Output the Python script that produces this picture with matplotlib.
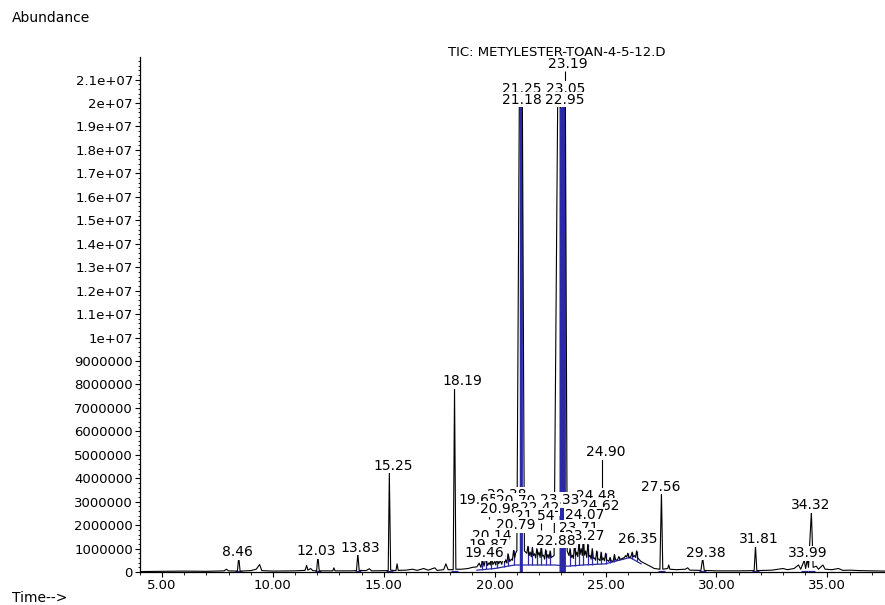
import numpy as np
import matplotlib
matplotlib.use("Agg")
import matplotlib.pyplot as plt
from matplotlib.ticker import MultipleLocator, FuncFormatter

plt.rcParams['font.family'] = ['DejaVu Sans']

# TIC trace: time (min), abundance (millions)
trace_t = [4.0, 5.0, 6.0, 7.0, 7.8, 7.9, 8.0, 8.40, 8.46, 8.52, 9.0, 9.25, 9.40, 9.5,
           10.0, 11.0, 11.45, 11.52, 11.58, 11.7, 11.8, 11.97, 12.03, 12.09, 12.7, 12.75,
           12.8, 13.5, 13.77, 13.83, 13.89, 14.2, 14.35, 14.45, 15.0, 15.2, 15.25, 15.31,
           15.55, 15.6, 15.65, 16.0, 16.3, 16.5, 16.8, 17.0, 17.3, 17.4, 17.7, 17.8, 17.9,
           18.13, 18.19, 18.25, 18.5, 18.8, 19.0, 19.2,
           19.3, 19.38, 19.45, 19.52, 19.6, 19.68, 19.75, 19.8, 19.85, 19.92, 20.0, 20.05,
           20.1, 20.18, 20.25, 20.32, 20.4, 20.45, 20.5, 20.55, 20.6, 20.68, 20.75, 20.8,
           20.85, 20.9, 20.95, 21.0,
           21.11, 21.18, 21.25, 21.34,
           21.45, 21.5, 21.55, 21.6, 21.65, 21.7, 21.75, 21.8, 21.85, 21.9, 21.95, 22.0,
           22.05, 22.1, 22.15, 22.2, 22.25, 22.3, 22.35, 22.4, 22.45, 22.5, 22.55, 22.68,
           22.84, 22.9, 22.97, 23.05, 23.12, 23.19, 23.27,
           23.35, 23.4, 23.45, 23.5, 23.55, 23.6, 23.65, 23.7, 23.75, 23.8, 23.85, 23.9,
           23.95, 24.0, 24.05, 24.1, 24.15, 24.2, 24.25, 24.3, 24.35, 24.4, 24.45, 24.5,
           24.55, 24.6, 24.65, 24.7, 24.75, 24.8, 24.85, 24.9, 24.95, 25.0, 25.05, 25.1,
           25.15, 25.2, 25.25, 25.3, 25.35, 25.4, 25.45, 25.5, 25.55, 25.6, 25.65, 25.7,
           25.75, 25.8, 25.85, 25.9, 25.95, 26.0, 26.05, 26.1, 26.15, 26.2, 26.25, 26.3,
           26.35, 26.4, 26.45, 26.5, 26.6, 26.8, 27.0, 27.2, 27.45, 27.52, 27.58, 27.8,
           27.85, 27.9, 28.2, 28.6, 28.7, 28.8, 29.3, 29.38, 29.45, 30.0, 31.0, 31.7,
           31.76, 31.82, 32.5, 33.0, 33.2, 33.5, 33.7, 33.8, 33.96, 34.02, 34.1, 34.15,
           34.28, 34.36, 34.5, 34.6, 34.8, 34.9, 35.2, 35.5, 35.7, 36.0, 36.5, 37.0, 37.6]
trace_v = [0.02, 0.03, 0.04, 0.03, 0.05, 0.12, 0.05, 0.04, 0.64, 0.04, 0.06, 0.12, 0.32, 0.06,
           0.04, 0.05, 0.07, 0.28, 0.08, 0.15, 0.06, 0.05, 0.68, 0.05, 0.05, 0.18,
           0.05, 0.05, 0.06, 0.80, 0.07, 0.06, 0.14, 0.05, 0.06, 0.06, 4.25, 0.08,
           0.06, 0.35, 0.07, 0.08, 0.12, 0.07, 0.15, 0.08, 0.18, 0.07, 0.10, 0.35, 0.10,
           0.10, 7.85, 0.12, 0.12, 0.15, 0.20, 0.22,
           0.38, 0.20, 0.55, 0.25, 0.60, 0.28, 0.40, 0.30, 0.65, 0.32, 0.45, 0.30,
           0.62, 0.35, 0.48, 0.33, 0.72, 0.40, 0.52, 0.38, 0.78, 0.45, 0.55, 0.50,
           0.92, 0.60, 0.82, 0.90,
           19.9, 19.95, 19.9, 0.90,
           0.80, 1.10, 0.70, 0.85, 0.65, 1.05, 0.70, 0.78, 0.60, 1.00, 0.72, 0.85,
           0.62, 1.10, 0.68, 0.72, 0.55, 0.95, 0.60, 0.75, 0.58, 0.90, 0.62, 0.70,
           19.9, 19.95, 19.8, 19.95, 19.85, 19.9, 0.90,
           0.70, 1.00, 0.62, 0.72, 0.58, 1.20, 0.70, 0.85, 0.65, 1.30, 0.75, 1.00,
           0.70, 1.50, 0.72, 0.90, 0.62, 1.20, 0.65, 0.72, 0.55, 1.00, 0.58, 0.60,
           0.50, 0.90, 0.55, 0.55, 0.48, 0.85, 0.52, 0.60, 0.48, 0.80, 0.50, 0.50,
           0.45, 0.62, 0.48, 0.45, 0.50, 0.75, 0.52, 0.50, 0.55, 0.66, 0.56, 0.55,
           0.58, 0.60, 0.62, 0.70, 0.64, 0.80, 0.66, 0.60, 0.68, 0.85, 0.65, 0.70,
           0.62, 0.90, 0.60, 0.55, 0.45, 0.35, 0.25, 0.15, 0.12, 3.40, 0.12, 0.15,
           0.30, 0.12, 0.10, 0.12, 0.18, 0.08, 0.07, 0.60, 0.07, 0.05, 0.05, 0.06,
           1.10, 0.06, 0.08, 0.15, 0.10, 0.15, 0.30, 0.12, 0.50, 0.15, 0.55, 0.20,
           2.57, 0.20, 0.25, 0.12, 0.30, 0.12, 0.10, 0.15, 0.07, 0.08, 0.06, 0.05, 0.04]

# integration baseline (blue) and drop lines
base_t = [19.2, 20.0, 20.9, 22.7, 23.3, 24.0, 25.0, 26.1, 26.6]
base_v = [0.08, 0.15, 0.30, 0.30, 0.25, 0.30, 0.35, 0.62, 0.35]
drop_t = [19.45, 19.6, 19.85, 20.1, 20.4, 20.6, 20.85, 21.5, 21.7, 21.9, 22.1, 22.3,
          22.5, 23.4, 23.6, 23.8, 24.0, 24.2, 24.4, 24.6, 24.8, 25.0, 25.2, 25.4,
          25.6, 25.8, 26.0, 26.2, 26.4]
iso_peaks = [8.46, 12.03, 13.83, 15.25, 18.19, 27.52, 29.38, 31.76, 33.96, 34.28]
# blue fill inside the two saturated peaks
fill_ranges = [(21.11, 21.25), (22.90, 23.19)]

# peak labels: text, time, abundance (millions) of label centre
lab_text = ["23.19", "21.25", "23.05", "21.18", "22.95", "18.19", "24.90", "15.25",
            "27.56", "20.38", "24.48", "23.33", "19.65", "20.70", "34.32", "24.62",
            "20.98", "22.42", "21.54", "24.07", "20.79", "23.71", "20.14", "23.27",
            "31.81", "26.35", "22.88", "19.87", "13.83", "12.03", "8.46", "29.38",
            "19.46", "33.99"]
lab_t = [23.29, 21.22, 23.18, 21.22, 23.18, 18.56, 25.00, 15.41,
         27.51, 20.54, 24.58, 22.93, 19.28, 20.95, 34.23, 24.73,
         20.23, 22.03, 21.80, 24.05, 20.95, 23.78, 19.86, 24.05,
         31.90, 26.44, 22.75, 19.73, 13.96, 11.94, 8.42, 29.50,
         19.55, 34.11]
lab_v = [21.68, 20.61, 20.61, 20.15, 20.15, 8.15, 5.11, 4.54,
         3.64, 3.29, 3.26, 3.07, 3.07, 3.03, 2.85, 2.82,
         2.69, 2.73, 2.40, 2.43, 2.00, 1.89, 1.54, 1.54,
         1.39, 1.41, 1.34, 1.15, 1.04, 0.90, 0.85, 0.82,
         0.81, 0.80]
# leader lines: time, bottom, top (millions)
lead_t = [23.15, 24.85, 19.73, 22.10]
lead_lo = [20.93, 3.58, 2.26, 1.79]
lead_hi = [21.35, 4.87, 2.73, 2.09]

BLUE = '#2a2aa8'
M = 1e6

fig = plt.figure(figsize=(8.85, 6.05), dpi=100)
ax = fig.add_axes([0.158, 0.0545, 0.842, 0.8508])

t = np.array(trace_t)
v = np.array(trace_v) * M
for a, b in fill_ranges:
    ax.fill_between(t, 0, v, where=(t >= a) & (t <= b), color=BLUE, lw=0, zorder=1)

lookup = dict(zip(trace_t, trace_v))
tops = [lookup[d] * M for d in drop_t]
bots = np.interp(drop_t, base_t, base_v) * M
ax.vlines(drop_t, bots, tops, color=BLUE, lw=0.9, zorder=1)
ax.plot(base_t, np.array(base_v) * M, color=BLUE, lw=0.9, zorder=1)
ax.hlines([0.03 * M] * len(iso_peaks), np.array(iso_peaks) - 0.15,
          np.array(iso_peaks) + 0.15, color=BLUE, lw=0.9, zorder=1)

ax.plot(t, v, color='black', lw=0.8, zorder=2)

ax.vlines(lead_t, np.array(lead_lo) * M, np.array(lead_hi) * M, color='black', lw=0.8, zorder=3)

for i, (s, x, y) in enumerate(zip(lab_text, lab_t, lab_v)):
    ax.text(x, y * M, s, ha='center', va='center', fontsize=10, zorder=4 + i * 0.01,
            bbox=dict(boxstyle='square,pad=0.05', facecolor='white', edgecolor='none'))

ax.set_xlim(4.0, 37.6)
ax.set_ylim(0, 2.195e7)
for sp in ['top', 'right']:
    ax.spines[sp].set_visible(False)
ax.spines['left'].set_linewidth(0.9)
ax.spines['bottom'].set_linewidth(0.9)

ax.xaxis.set_major_locator(MultipleLocator(5))
ax.xaxis.set_minor_locator(MultipleLocator(1))
ax.yaxis.set_major_locator(MultipleLocator(1e6))
ax.yaxis.set_minor_locator(MultipleLocator(2e5))
ax.xaxis.set_major_formatter(FuncFormatter(lambda x, p: '%.2f' % x))
ax.yaxis.set_major_formatter(FuncFormatter(lambda y, p: ('%g' % y) if y >= 1e7 - 1 else '%d' % round(y)))
ax.tick_params(which='major', direction='out', length=3.5, width=0.8, labelsize=9.5, pad=1.5)
ax.tick_params(which='minor', direction='out', length=1.8, width=0.6)

fig.text(557 / 885, 1 - 52 / 605, 'TIC: METYLESTER-TOAN-4-5-12.D', ha='center', va='center', fontsize=9.5)
fig.text(12 / 885, 1 - 18 / 605, 'Abundance', ha='left', va='center', fontsize=10)
fig.text(12 / 885, 1 - 598 / 605, 'Time-->', ha='left', va='center', fontsize=10)

fig.savefig('out.png', dpi=100)
